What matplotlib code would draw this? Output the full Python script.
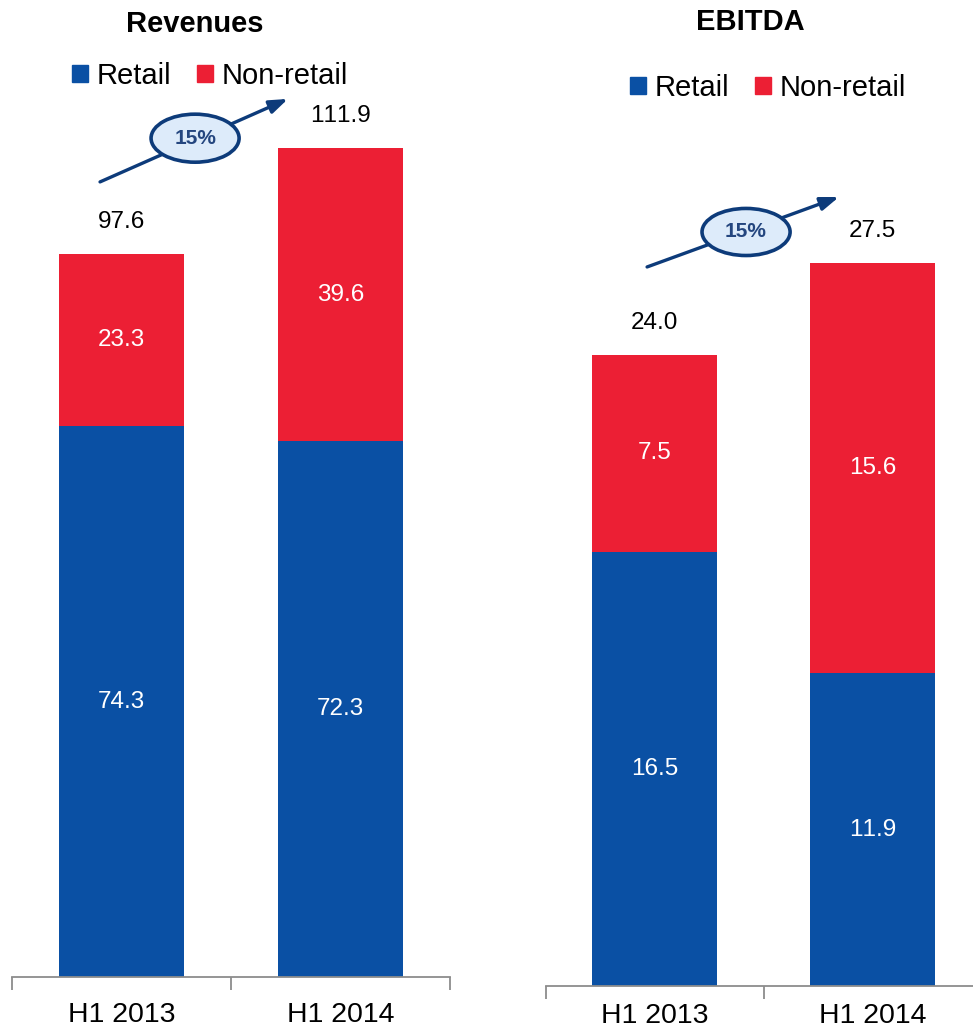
import matplotlib
matplotlib.use("Agg")
import matplotlib.pyplot as plt
from matplotlib.patches import Ellipse, Patch

plt.rcParams['font.family'] = ['Liberation Sans', 'DejaVu Sans']
plt.rcParams['text.kerning_factor'] = 6

periods = ["H1 2013", "H1 2014"]
rev_retail = [74.3, 72.3]
rev_nonretail = [23.3, 39.6]
ebitda_retail = [16.5, 11.9]
ebitda_nonretail = [7.5, 15.6]
growth_labels = ["15%", "15%"]

BLUE = "#0A50A4"
RED = "#EC1F34"
DARK = "#0D3B7A"

W, H = 973, 1029
fig = plt.figure(figsize=(W / 100, H / 100), dpi=100)


def px_axes(x0, x1, base):
    # axes from pixel x0..x1, bottom at pixel row base (from top) up to top of figure
    return fig.add_axes([x0 / W, (H - base) / H, (x1 - x0) / W, base / H])


def draw_panel(ax, retail, nonretail, ymax, arrow, ell, growth, pad):
    x = range(len(periods))
    tot = [a + b for a, b in zip(retail, nonretail)]
    ax.bar(x, retail, width=0.57, color=BLUE)
    ax.bar(x, nonretail, width=0.57, bottom=retail, color=RED)
    for i in x:
        ax.text(i, retail[i] / 2, f"{retail[i]:.1f}", ha="center", va="center",
                color="white", fontsize=17.5)
        ax.text(i, retail[i] + nonretail[i] / 2, f"{nonretail[i]:.1f}",
                ha="center", va="center", color="white", fontsize=17.5)
        ax.annotate(f"{tot[i]:.1f}", (i, tot[i]), xytext=(0, 32),
                    textcoords="offset pixels", ha="center", va="center",
                    fontsize=17.5)
    ax.set_xlim(-0.5, 1.5)
    ax.set_ylim(0, ymax)
    for s in ["top", "left", "right"]:
        ax.spines[s].set_visible(False)
    ax.spines["bottom"].set_color("#8C8C8C")
    ax.spines["bottom"].set_linewidth(1.3)
    ax.set_yticks([])
    ax.set_xticks(list(x))
    ax.set_xticklabels(periods, fontsize=20.5)
    ax.set_xticks([-0.5, 0.5, 1.5], minor=True)
    ax.tick_params(axis="x", which="major", length=0, pad=pad)
    ax.tick_params(axis="x", which="minor", length=9, width=1.3,
                   color="#8C8C8C", direction="out")
    # growth arrow with ellipse
    ax.annotate("", xy=arrow[1], xytext=arrow[0],
                arrowprops=dict(arrowstyle="-|>,head_length=1.1,head_width=0.4",
                                color=DARK, lw=2.4, shrinkA=0, shrinkB=0),
                annotation_clip=False)
    e = Ellipse(ell[0], ell[1], ell[2], facecolor="#DDEBFA", edgecolor=DARK,
                lw=2.6, zorder=5, clip_on=False)
    ax.add_patch(e)
    ax.text(ell[0][0], ell[0][1], growth, ha="center", va="center",
            fontsize=15, fontweight="bold", color="#24467F", zorder=6)


ax1 = px_axes(12, 450, 977)
draw_panel(ax1, rev_retail, rev_nonretail, 977 / 7.41,
           ((-0.098, 107.3), (0.76, 118.5)), ((0.336, 113.2), 0.402, 6.48),
           growth_labels[0], 18)

ax2 = px_axes(545.5, 981.5, 986)
draw_panel(ax2, ebitda_retail, ebitda_nonretail, 986 / 26.3,
           ((-0.034, 27.34), (0.846, 30.0)), ((0.42, 28.67), 0.404, 1.79),
           growth_labels[1], 12)

fig.text(195 / W, 1 - 24 / H, "Revenues", ha="center", va="center",
         fontsize=21, fontweight="bold")
fig.text(750 / W, 1 - 22 / H, "EBITDA", ha="center", va="center",
         fontsize=21, fontweight="bold")

handles = [Patch(color=BLUE, label="Retail"), Patch(color=RED, label="Non-retail")]
for cx, cy in [(210, 76), (768, 88)]:
    fig.legend(handles=handles, loc="center", bbox_to_anchor=(cx / W, 1 - cy / H),
               ncol=2, frameon=False, fontsize=21, handlelength=0.55,
               handleheight=0.55, handletextpad=0.3, columnspacing=0.9,
               borderpad=0, borderaxespad=0)

fig.savefig("out.png", dpi=100)
